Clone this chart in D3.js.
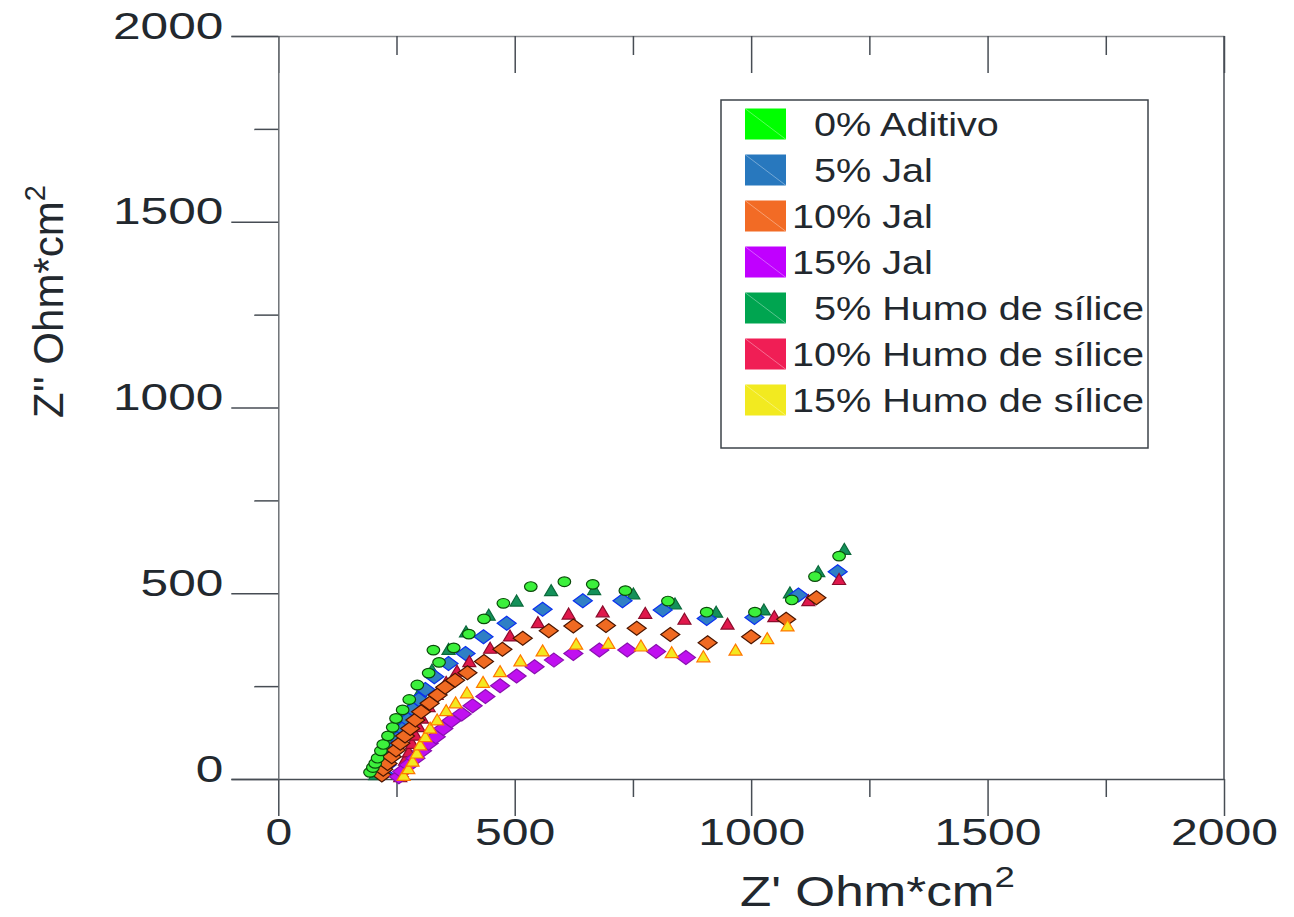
<!DOCTYPE html>
<html>
<head>
<meta charset="utf-8">
<script src="https://cdn.jsdelivr.net/npm/d3@7"></script>
<style>
  body { margin: 0; background: #fff; }
  text { font-family: "Liberation Sans", Arial, sans-serif; fill: #22282e; }
</style>
</head>
<body>
<div id="chart"></div>
<script>
// Nyquist data [Z', Z'']
const aditivo0 = [[194,18],[200,31],[205,42],[210,56],[217,76],[222,93],[232,116],[242,139],[249,163],[263,186],[277,214],[294,253],[318,285],[340,314],[328,347],[371,353],[403,390],[435,431],[476,473],[534,518],[605,531],[665,524],[734,507],[824,479],[906,449],[1008,449],[1086,482],[1135,545],[1186,600]]
const jal5 = [[222,15],[229,38],[236,60],[244,85],[253,110],[263,135],[274,160],[285,188],[297,214],[311,241],[330,275],[360,311],[396,338],[434,383],[483,419],[559,457],[644,480],[728,480],[813,455],[906,432],[1007,435],[1100,495],[1183,558]]
const jal10 = [[219,11],[222,26],[231,42],[240,60],[249,78],[258,96],[268,116],[279,136],[290,159],[302,181],[320,204],[337,226],[353,247],[374,266],[400,286],[435,316],[474,349],[517,379],[572,399],[624,412],[693,413],[758,406],[829,389],[908,367],[1000,383],[1074,430],[1138,488]]
const jal15 = [[255,6],[262,20],[276,38],[290,56],[304,76],[318,96],[333,114],[349,136],[366,157],[388,175],[411,197],[438,222],[469,251],[504,277],[542,302],[583,320],[624,338],[679,347],[738,347],[799,343],[862,327]]
const humo5 = [[205,12],[212,30],[220,50],[228,72],[236,95],[246,120],[256,145],[268,172],[282,200],[300,235],[325,293],[360,349],[397,396],[445,441],[504,479],[577,507],[668,510],[751,498],[839,471],[926,449],[1027,455],[1082,501],[1142,558],[1197,618]]
const humo10 = [[258,6],[262,29],[268,51],[276,73],[283,96],[290,118],[297,141],[304,164],[318,195],[335,228],[355,260],[378,290],[404,316],[448,352],[490,385],[549,421],[614,444],[686,450],[776,446],[859,430],[950,417],[1049,437],[1121,480],[1186,537]]
const humo15 = [[265,10],[275,28],[284,48],[293,70],[300,92],[311,114],[321,137],[336,159],[355,184],[375,205],[399,232],[433,260],[469,289],[512,318],[559,345],[630,363],[698,365],[767,358],[832,340],[899,329],[967,347],[1034,378],[1077,412]]

const legendLabels = ['  0% Aditivo', '  5% Jal', '10% Jal', '15% Jal', '  5% Humo de sílice', '10% Humo de sílice', '15% Humo de sílice']
const legendColors = ['#00ff00', '#2878be', '#f26b25', '#c000ff', '#00a550', '#f01e55', '#f2ea20']

const majorX = [0, 500, 1000, 1500, 2000]
const minorX = [250, 750, 1250, 1750]
const majorY = [0, 500, 1000, 1500, 2000]
const minorY = [250, 750, 1250, 1750]

// canvas
const width = 1294,
      height = 917,
      stretch = 1.3   // the original picture is stretched sideways

let svg = d3.select('#chart')
  .append('svg')
  .attr('width', width)
  .attr('height', height)
  .style('background', '#fff')

let x = d3.scaleLinear().domain([-100, 2000]).range([231, 1224])
let y = d3.scaleLinear().domain([0, 2000]).range([779, 36])

const axisColor = '#474d54'
const fmt = d3.format('d')

let styleAxis = (g) => {
  g.selectAll('path, line').attr('stroke', axisColor).attr('stroke-width', 1.5)
}

// bottom axis
svg.append('g')
  .attr('transform', `translate(0,${y(0)})`)
  .call(d3.axisBottom(x).tickValues(majorX).tickSize(37).tickSizeOuter(0).tickFormat(fmt))
  .call(styleAxis)
  .call(g => g.selectAll('text')
    .attr('y', 66).attr('dy', 0)
    .attr('font-size', 37)
    .attr('transform', `scale(${stretch},1)`))
svg.append('g')
  .attr('transform', `translate(0,${y(0)})`)
  .call(d3.axisBottom(x).tickValues(minorX).tickSize(18).tickFormat(''))
  .call(styleAxis)
  .call(g => g.select('.domain').remove())

// top axis, ticks inward
svg.append('g')
  .attr('transform', `translate(0,${y(2000)})`)
  .call(d3.axisTop(x).tickValues(majorX).tickSize(-37).tickSizeOuter(0).tickFormat(''))
  .call(styleAxis)
  .call(g => g.select('.domain').attr('stroke', '#8a8d90'))
svg.append('g')
  .attr('transform', `translate(0,${y(2000)})`)
  .call(d3.axisTop(x).tickValues(minorX).tickSize(-19).tickFormat(''))
  .call(styleAxis)
  .call(g => g.select('.domain').remove())

// left axis sits on Z' = 0
const yStretch = 1.34
svg.append('g')
  .attr('transform', `translate(${x(0)},0)`)
  .call(d3.axisLeft(y).tickValues(majorY).tickSize(47).tickSizeOuter(0).tickFormat(fmt))
  .call(styleAxis)
  .call(g => g.select('.domain').attr('stroke', '#6d7176'))
  .call(g => g.selectAll('text')
    .attr('x', -55 / yStretch).attr('dy', 0).attr('y', 2)
    .attr('font-size', 37)
    .attr('transform', `scale(${yStretch},1)`))
svg.append('g')
  .attr('transform', `translate(${x(0)},0)`)
  .call(d3.axisLeft(y).tickValues(minorY).tickSize(24).tickFormat(''))
  .call(styleAxis)
  .call(g => g.select('.domain').remove())

// right border
svg.append('line')
  .attr('x1', x(2000)).attr('x2', x(2000))
  .attr('y1', y(2000)).attr('y2', y(0))
  .attr('stroke', axisColor).attr('stroke-width', 1.5)

// axis titles
let xTitle = svg.append('text')
  .attr('transform', `translate(740,906) scale(1.22,1)`)
  .attr('font-size', 42)
xTitle.append('tspan').text("Z' Ohm*cm")
xTitle.append('tspan').attr('font-size', 30).attr('dy', -19).text('2')

let yTitle = svg.append('text')
  .attr('transform', 'translate(63,418) rotate(-90)')
  .attr('font-size', 42)
yTitle.append('tspan').text("Z'' Ohm*cm")
yTitle.append('tspan').attr('font-size', 29).attr('dy', -18).text('2')

// markers
let diamond = 'M0,-7 L9.5,0 L0,7 L-9.5,0 Z'
let triangle = 'M0,-6 L6.5,5 L-6.5,5 Z'

let series = [
  { data: humo5, shape: 'tri', fill: '#14915a', stroke: '#0b6a3b' },
  { data: jal5, shape: 'dia', fill: '#2f7fc5', stroke: '#0b30f0' },
  { data: humo10, shape: 'tri', fill: '#e0184c', stroke: '#8c0c2c' },
  { data: jal10, shape: 'dia', fill: '#f06a22', stroke: '#4a1500' },
  { data: jal15, shape: 'dia', fill: '#c010f0', stroke: '#8a10b0' },
  { data: humo15, shape: 'tri', fill: '#f4e820', stroke: '#ff7800' },
  { data: aditivo0, shape: 'circ', fill: '#3cf03c', stroke: '#0a4a0a' }
]

series.forEach(s => {
  let g = svg.append('g')
  if (s.shape === 'circ') {
    g.selectAll('ellipse')
      .data(s.data)
      .enter()
      .append('ellipse')
      .attr('cx', d => x(d[0]))
      .attr('cy', d => y(d[1]))
      .attr('rx', 6.3)
      .attr('ry', 4.8)
      .attr('fill', s.fill)
      .attr('stroke', s.stroke)
      .attr('stroke-width', 1.2)
  } else {
    g.selectAll('path')
      .data(s.data)
      .enter()
      .append('path')
      .attr('d', s.shape === 'dia' ? diamond : triangle)
      .attr('transform', d => `translate(${x(d[0])},${y(d[1])})`)
      .attr('fill', s.fill)
      .attr('stroke', s.stroke)
      .attr('stroke-width', 1.2)
  }
})

// legend
let legend = svg.append('g')
legend.append('rect')
  .attr('x', 721).attr('y', 100)
  .attr('width', 427).attr('height', 348)
  .attr('fill', '#fff')
  .attr('stroke', '#3d434a').attr('stroke-width', 1.5)

let rows = legend.selectAll('g.row')
  .data(legendLabels)
  .enter()
  .append('g')
  .attr('class', 'row')
  .attr('transform', (d, i) => `translate(0,${124 + i * 46})`)

rows.append('rect')
  .attr('x', 745).attr('y', -15.5)
  .attr('width', 41).attr('height', 31)
  .attr('fill', (d, i) => legendColors[i])
rows.append('line')
  .attr('x1', 745).attr('y1', -15.5)
  .attr('x2', 786).attr('y2', 15.5)
  .attr('stroke', '#fff').attr('stroke-opacity', 0.35)
rows.append('text')
  .attr('transform', `translate(792,12) scale(1.2,1)`)
  .attr('font-size', 33)
  .style('white-space', 'pre')
  .text(d => d)
</script>
</body>
</html>
